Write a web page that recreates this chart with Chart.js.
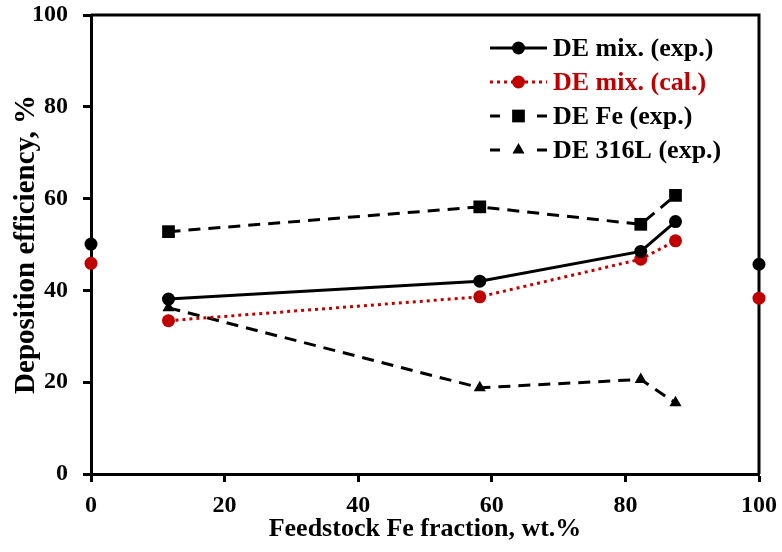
<!DOCTYPE html>
<html>
<head>
<meta charset="utf-8">
<script src="https://cdn.jsdelivr.net/npm/chart.js@4.4.1/dist/chart.umd.min.js"></script>
<style>
  html, body { margin: 0; padding: 0; background: #fff; }
  #wrap { width: 782px; height: 552px; }
</style>
</head>
<body>
<div id="wrap"><canvas id="chart" width="782" height="552"></canvas></div>
<script>
// Feedstock Fe fraction (wt.%) of the blended powders
var mixFe = [11.6, 58.2, 82.3, 87.5];
var mixExp = [38.1, 42.0, 48.5, 55.0];
var mixCal = [33.4, 38.6, 46.8, 50.8];
var feExp = [52.8, 58.2, 54.4, 60.7];
var ssExp = [36.2, 18.8, 20.6, 15.5];

// pure 316L (0 %) and pure Fe (100 %) powders - plotted, not joined
var pureFe = [0, 100];
var pureExp = [50.1, 45.7];
var pureCal = [45.9, 38.3];

var xTicks = [0, 20, 40, 60, 80, 100];
var yTicks = [0, 20, 40, 60, 80, 100];

var RED = '#C00000';
var FONT = "'Liberation Serif', 'Times New Roman', serif";

function pts(xs, ys) {
    return xs.map(function(x, i) { return { x: x, y: ys[i] }; });
}

// Frame: top and right edges of the plot box
var framePlugin = {
    id: 'frame',
    beforeDatasetsDraw: function(chart) {
        var a = chart.chartArea;
        var ctx = chart.ctx;
        ctx.save();
        ctx.strokeStyle = '#000';
        ctx.lineWidth = 3;
        ctx.beginPath();
        ctx.moveTo(a.left, a.top);
        ctx.lineTo(a.right, a.top);
        ctx.lineTo(a.right, a.bottom);
        ctx.stroke();
        ctx.restore();
    }
};

// Legend drawn inside the plot, line sample + marker + coloured label
var legendPlugin = {
    id: 'boxLegend',
    afterDraw: function(chart) {
        var ctx = chart.ctx;
        var x0 = 490, x1 = 547, tx = 553;
        var y = 48, step = 34;
        chart.data.datasets.forEach(function(ds) {
            if (ds.hideInLegend) return;
            ctx.save();
            ctx.strokeStyle = ds.borderColor;
            ctx.lineWidth = ds.borderWidth;
            if (ds.legendDash) ctx.setLineDash([10, (x1 - x0) - 20]);
            else ctx.setLineDash(ds.borderDash || []);
            ctx.beginPath();
            ctx.moveTo(x0, y);
            ctx.lineTo(x1, y);
            ctx.stroke();
            ctx.setLineDash([]);
            ctx.fillStyle = ds.pointBackgroundColor;
            Chart.helpers.drawPoint(ctx, {
                pointStyle: ds.pointStyle,
                radius: ds.pointRadius,
                borderWidth: 0,
                rotation: 0
            }, (x0 + x1) / 2, y);
            ctx.fillStyle = ds.borderColor;
            ctx.font = 'bold 26px ' + FONT;
            ctx.textAlign = 'left';
            ctx.textBaseline = 'middle';
            ctx.fillText(ds.label, tx, y + 1);
            ctx.restore();
            y += step;
        });
    }
};

var ctx = document.getElementById('chart');

new Chart(ctx, {
    type: 'line',
    data: {
        datasets: [{
            label: 'DE mix. (exp.)',
            data: pts(mixFe, mixExp),
            borderColor: '#000',
            borderWidth: 3,
            pointStyle: 'circle',
            pointRadius: 6.5,
            pointBackgroundColor: '#000',
            pointBorderWidth: 0
        }, {
            label: 'DE mix. (cal.)',
            data: pts(mixFe, mixCal),
            borderColor: RED,
            borderWidth: 3,
            borderDash: [3, 4],
            pointStyle: 'circle',
            pointRadius: 6.5,
            pointBackgroundColor: RED,
            pointBorderWidth: 0
        }, {
            label: 'DE Fe (exp.)',
            data: pts(mixFe, feExp),
            borderColor: '#000',
            borderWidth: 3,
            borderDash: [12, 8],
            legendDash: true,
            pointStyle: 'rect',
            pointRadius: 9,
            pointBackgroundColor: '#000',
            pointBorderWidth: 0
        }, {
            label: 'DE 316L (exp.)',
            data: pts(mixFe, ssExp),
            borderColor: '#000',
            borderWidth: 3,
            borderDash: [12, 8],
            legendDash: true,
            pointStyle: 'triangle',
            pointRadius: 7,
            pointBackgroundColor: '#000',
            pointBorderWidth: 0
        }, {
            label: 'pure exp',
            hideInLegend: true,
            data: pts(pureFe, pureExp),
            showLine: false,
            clip: false,
            borderColor: '#000',
            pointStyle: 'circle',
            pointRadius: 6.5,
            pointBackgroundColor: '#000',
            pointBorderWidth: 0
        }, {
            label: 'pure cal',
            hideInLegend: true,
            data: pts(pureFe, pureCal),
            showLine: false,
            clip: false,
            borderColor: RED,
            pointStyle: 'circle',
            pointRadius: 6.5,
            pointBackgroundColor: RED,
            pointBorderWidth: 0
        }]
    },
    options: {
        responsive: false,
        animation: false,
        devicePixelRatio: 1,
        layout: { padding: { left: 0, top: 15, right: 23, bottom: 0 } },
        plugins: {
            legend: { display: false },
            tooltip: { enabled: false }
        },
        elements: { line: { tension: 0 } },
        scales: {
            x: {
                type: 'linear',
                min: 0,
                max: 100,
                afterBuildTicks: function(scale) {
                    scale.ticks = xTicks.map(function(v) { return { value: v }; });
                },
                afterFit: function(scale) {
                    scale.height = 78;
                    scale.paddingLeft = 0;
                    scale.paddingRight = 0;
                },
                grid: { drawOnChartArea: false, tickLength: 8, tickColor: '#000', tickWidth: 3 },
                border: { color: '#000', width: 3 },
                ticks: {
                    color: '#000',
                    padding: 9,
                    font: { family: FONT, size: 24, weight: 'bold' }
                },
                title: {
                    display: true,
                    text: 'Feedstock Fe fraction, wt.%',
                    color: '#000',
                    padding: { top: 0, bottom: 7 },
                    font: { family: FONT, size: 26, weight: 'bold' }
                }
            },
            y: {
                min: 0,
                max: 100,
                afterBuildTicks: function(scale) {
                    scale.ticks = yTicks.map(function(v) { return { value: v }; });
                },
                afterFit: function(scale) {
                    scale.width = 91;
                    scale.paddingTop = 0;
                    scale.paddingBottom = 0;
                },
                grid: { drawOnChartArea: false, tickLength: 8, tickColor: '#000', tickWidth: 3 },
                border: { color: '#000', width: 3 },
                ticks: {
                    color: '#000',
                    padding: 15,
                    font: { family: FONT, size: 24, weight: 'bold' }
                },
                title: {
                    display: true,
                    text: 'Deposition efficiency, %',
                    color: '#000',
                    padding: { top: 9, bottom: 0 },
                    font: { family: FONT, size: 29, weight: 'bold' }
                }
            }
        }
    },
    plugins: [framePlugin, legendPlugin]
});
</script>
</body>
</html>
